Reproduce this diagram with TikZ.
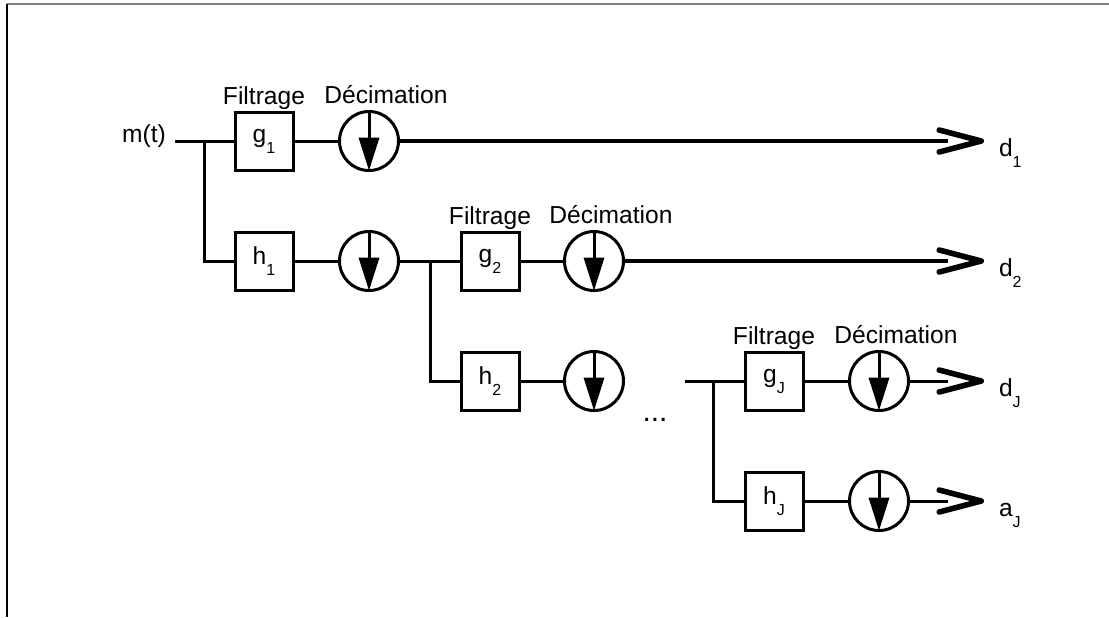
\documentclass[tikz,border=0pt]{standalone}
\usepackage{fontspec}
\setmainfont{Liberation Sans}
\usetikzlibrary{arrows.meta, positioning}
\newcommand{\lowsub}[1]{\raisebox{-5.5pt}{\fontsize{8}{8}\selectfont #1}}
\tikzset{
  filtbox/.style={rectangle, draw, line width=1.5pt, minimum size=29pt, inner sep=0pt,
    font=\fontsize{12.3}{14}\selectfont},
  decimnode/.style={circle, draw, line width=1.5pt, minimum size=29.5pt, inner sep=0pt,
    path picture={
      \draw[line width=1.5pt] (path picture bounding box.north) -- ++(0,-13.5pt);
      \fill (path picture bounding box.south) -- ++(-5.25pt,16.5pt) -- ++(10.5pt,0pt) -- cycle;
    }},
  toplabel/.style={font=\fontsize{12.3}{14}\selectfont, inner sep=0pt, text depth=0pt},
  sidelabel/.style={font=\fontsize{12.3}{14}\selectfont, inner sep=0pt, outer sep=7.5pt, anchor=base west},
  conn/.style={line width=1.5pt},
  outline/.style={line width=2pt, shorten >=18pt},
  chevron/.style={-{Straight Barb[round, length=21pt, width=11pt, line width=2.8pt]}, line width=1.5pt},
}
\begin{document}
\begin{tikzpicture}[x=0.5pt, y=-0.5pt]

\useasboundingbox (0,0) rectangle (1109,617);

%% FRAME
\draw[line width=1pt, black!50] (7,4) -- (1109,4);
\draw[line width=0.6pt] (7,4) -- (7,617);

%% INPUT
\node[font=\fontsize{12.3}{14}\selectfont, inner sep=4.5pt] (m_in) at (144,136) {m(t)};
\coordinate (br_one) at (204,141);

%% LEVEL 1
\node[filtbox] (g1_box) at (264,141) {g\lowsub{1}};
\node[decimnode] (g1_dec) at (369,141) {};
\node[filtbox] (h1_box) at (264,261) {h\lowsub{1}};
\node[decimnode] (h1_dec) at (369,261) {};
\coordinate (br_two) at (430,261);

%% LEVEL 2
\node[filtbox] (g2_box) at (490,261) {g\lowsub{2}};
\node[decimnode] (g2_dec) at (594,261) {};
\node[filtbox] (h2_box) at (490,381) {h\lowsub{2}};
\node[decimnode] (h2_dec) at (594,381) {};

\node[font=\fontsize{15}{16}\selectfont, inner sep=0pt, anchor=base] (dots) at (655,421) {...};

%% LEVEL J
\coordinate (st_J) at (685,381);
\coordinate (br_J) at (713,381);
\node[filtbox] (gJ_box) at (774,381) {g\lowsub{J}};
\node[decimnode] (gJ_dec) at (879,381) {};
\node[filtbox] (hJ_box) at (774,501) {h\lowsub{J}};
\node[decimnode] (hJ_dec) at (879,501) {};

%% STAGE LABELS
\node[toplabel, above=3pt of g1_box] (g1_lab) {Filtrage};
\node[toplabel, above=3pt of g1_dec, xshift=8.5pt] (g1_dlab) {Décimation};
\node[toplabel, above=3pt of g2_box] (g2_lab) {Filtrage};
\node[toplabel, above=3pt of g2_dec, xshift=8.5pt] (g2_dlab) {Décimation};
\node[toplabel, above=3pt of gJ_box] (gJ_lab) {Filtrage};
\node[toplabel, above=3pt of gJ_dec, xshift=8.5pt] (gJ_dlab) {Décimation};

%% OUTPUTS
\node[sidelabel] (d1_out) at (984,156) {d\lowsub{1}};
\node[sidelabel] (d2_out) at (984,276) {d\lowsub{2}};
\node[sidelabel] (dJ_out) at (984,396) {d\lowsub{J}};
\node[sidelabel] (aJ_out) at (984,516) {a\lowsub{J}};

%% CONNECTIONS
\draw[conn] (m_in.east |- g1_box.west) -- (g1_box.west);
\draw[conn] (br_one) |- (h1_box.west);
\draw[conn] (g1_box.east) -- (g1_dec.west);
\draw[conn] (h1_box.east) -- (h1_dec.west);
\draw[conn] (h1_dec.east) -- (g2_box.west);
\draw[conn] (br_two) |- (h2_box.west);
\draw[conn] (g2_box.east) -- (g2_dec.west);
\draw[conn] (h2_box.east) -- (h2_dec.west);
\draw[conn] (st_J) -- (gJ_box.west);
\draw[conn] (br_J) |- (hJ_box.west);
\draw[conn] (gJ_box.east) -- (gJ_dec.west);
\draw[conn] (hJ_box.east) -- (hJ_dec.west);

%% OUTPUT ARROWS (line stops inside the open chevron)
\draw[outline] (g1_dec.east) -- (g1_dec.east -| d1_out.west);
\draw[outline] (g2_dec.east) -- (g2_dec.east -| d2_out.west);
\draw[outline, line width=1.5pt] (gJ_dec.east) -- (gJ_dec.east -| dJ_out.west);
\draw[outline, line width=1.5pt] (hJ_dec.east) -- (hJ_dec.east -| aJ_out.west);
\draw[chevron] (g1_dec.east -| d1_out.west) ++(-1pt,0) -- ++(1pt,0);
\draw[chevron] (g2_dec.east -| d2_out.west) ++(-1pt,0) -- ++(1pt,0);
\draw[chevron] (gJ_dec.east -| dJ_out.west) ++(-1pt,0) -- ++(1pt,0);
\draw[chevron] (hJ_dec.east -| aJ_out.west) ++(-1pt,0) -- ++(1pt,0);

\end{tikzpicture}
\end{document}
